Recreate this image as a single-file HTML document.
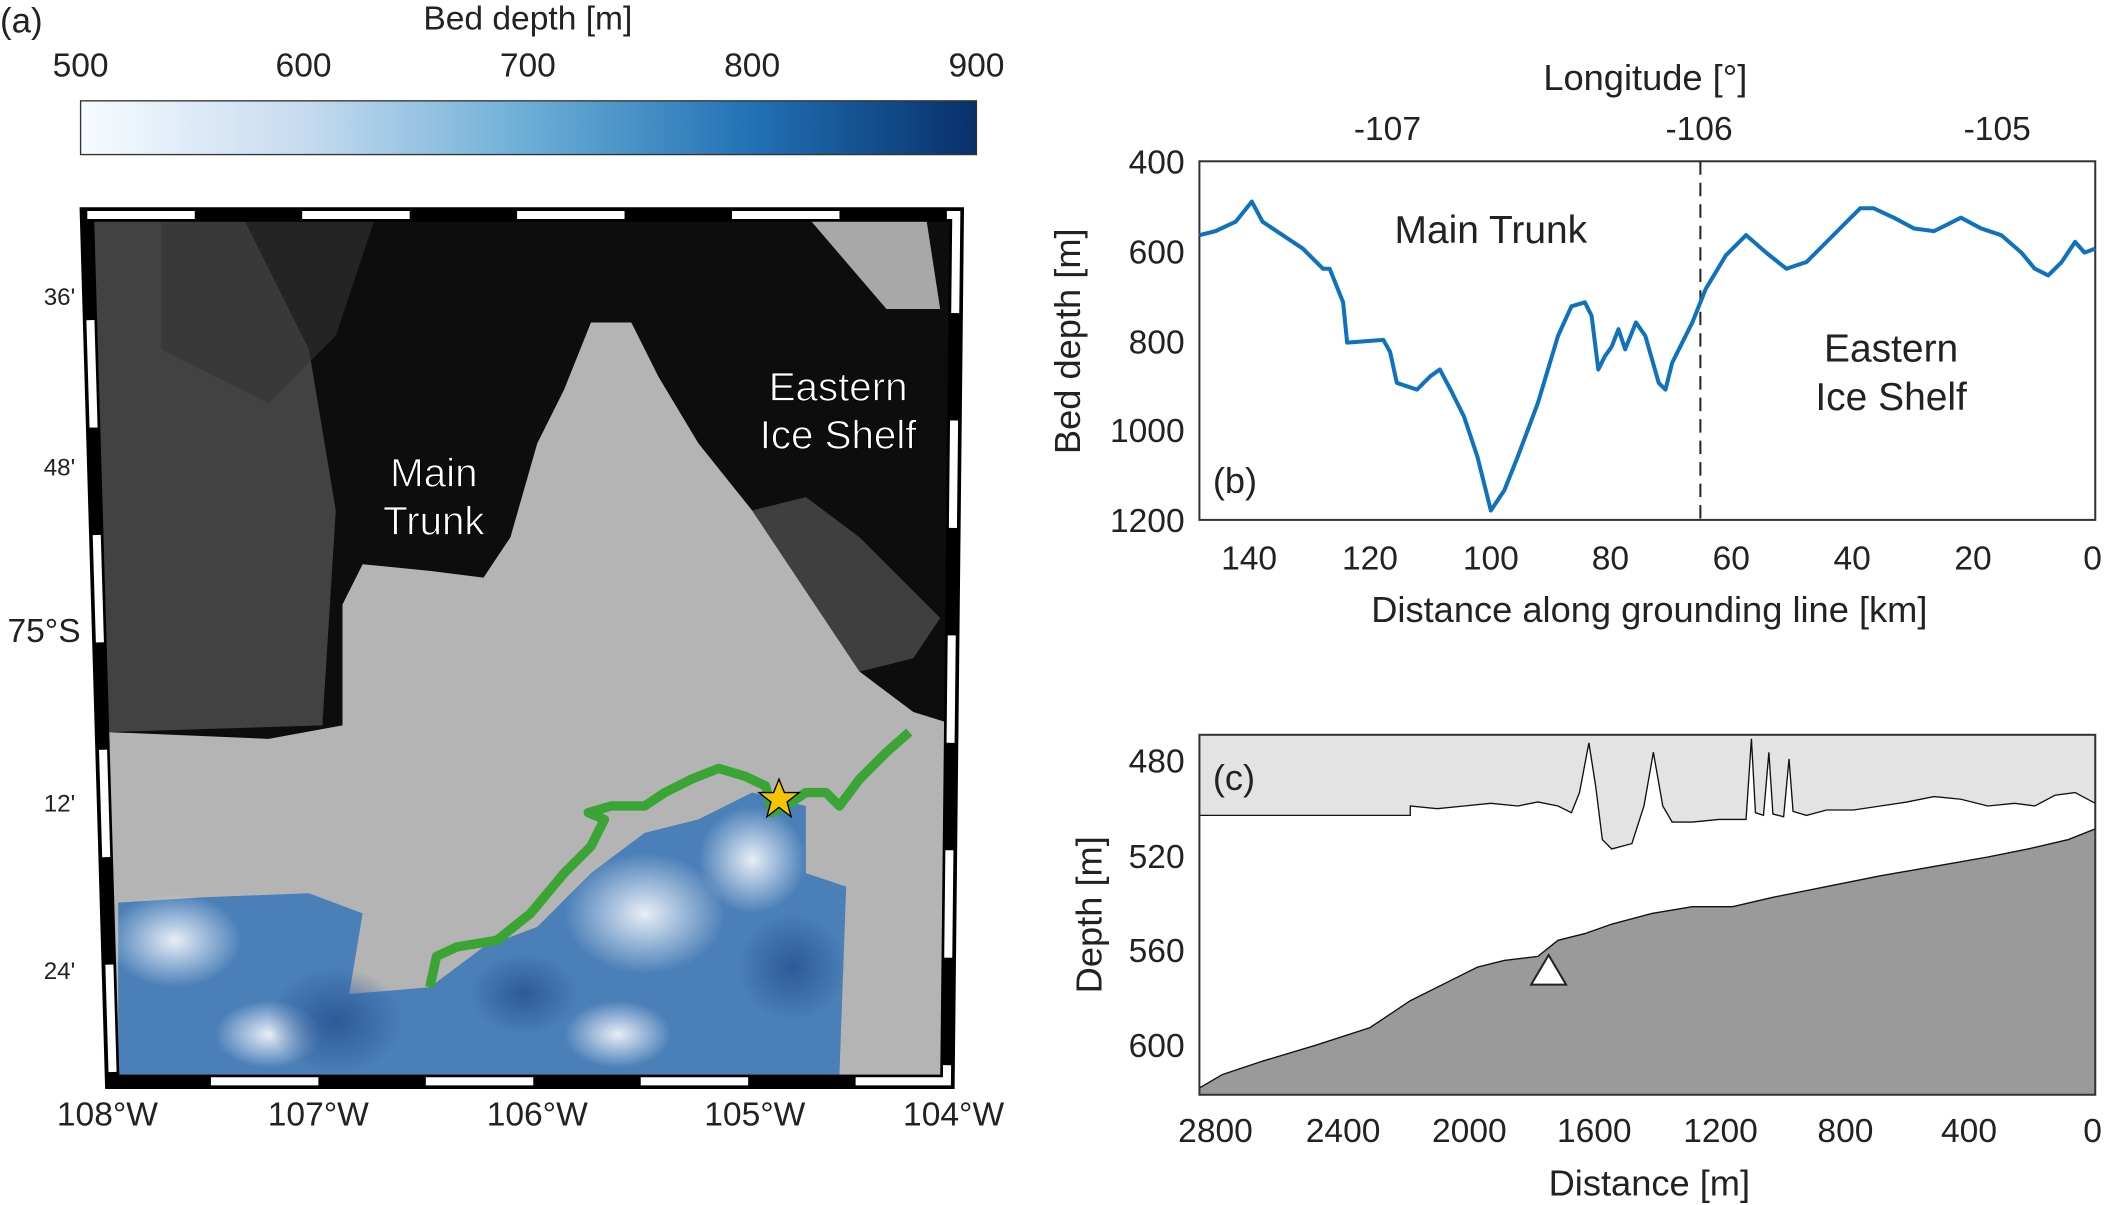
<!DOCTYPE html>
<html><head><meta charset="utf-8"><style>
html,body{margin:0;padding:0;background:#fff}
svg{display:block}
text{font-family:"Liberation Sans",sans-serif;fill:#222}
text.w{fill:#fff;stroke:#000;stroke-width:0.6px}
</style></head><body>
<svg width="2106" height="1205" viewBox="0 0 1568 897" xmlns="http://www.w3.org/2000/svg">
<defs>
<linearGradient id="cb" x1="0" x2="1" y1="0" y2="0">
<stop offset="0" stop-color="#f7fbff"/><stop offset="0.25" stop-color="#c6dbef"/><stop offset="0.5" stop-color="#6baed6"/><stop offset="0.75" stop-color="#2171b5"/><stop offset="1" stop-color="#08306b"/>
</linearGradient>
<radialGradient id="lt" cx="0.5" cy="0.5" r="0.5"><stop offset="0" stop-color="#e8eef6"/><stop offset="1" stop-color="#e8eef6" stop-opacity="0"/></radialGradient>
<radialGradient id="dk" cx="0.5" cy="0.5" r="0.5"><stop offset="0" stop-color="#2c5a98"/><stop offset="1" stop-color="#2c5a98" stop-opacity="0"/></radialGradient>
<clipPath id="mc"><polygon points="65,160 712,160 705,805 84,805"/></clipPath>
</defs>
<text x="0" y="24" font-size="26">(a)</text>
<text x="393" y="22" font-size="25" text-anchor="middle">Bed depth [m]</text>
<g font-size="25" text-anchor="middle">
<text x="60" y="57">500</text><text x="226" y="57">600</text><text x="393" y="57">700</text><text x="560" y="57">800</text><text x="727" y="57">900</text></g>
<rect x="60" y="75" width="667" height="40" fill="url(#cb)" stroke="#333" stroke-width="1"/>
<g clip-path="url(#mc)">
<rect x="60" y="150" width="660" height="670" fill="#b4b4b4"/>
<polygon points="65,160 712,160 712,540 680,530 640,500 600,440 560,380 520,330 490,280 470,240 440,240 420,290 400,330 380,400 360,430 320,425 270,420 255,450 255,540 200,550 80,545" fill="#0d0d0d"/>
<polygon points="65,160 180,160 230,260 250,380 240,540 80,545" fill="#5a5a5a" opacity="0.7"/>
<polygon points="120,160 280,160 250,250 200,300 120,260" fill="#333" opacity="0.6"/>
<polygon points="600,160 690,165 700,230 660,230" fill="#a8a8a8"/>
<polygon points="560,380 600,440 640,500 680,490 700,460 640,400 600,370" fill="#555" opacity="0.7"/>
<polygon points="88,672 150,668 230,665 270,680 260,740 320,735 360,705 400,690 440,650 480,620 520,610 560,590 600,600 600,650 630,660 625,800 88,805" fill="#4a7fb8"/>
<ellipse cx="130" cy="700" rx="50" ry="35" fill="url(#lt)"/>
<ellipse cx="200" cy="770" rx="40" ry="25" fill="url(#lt)"/>
<ellipse cx="480" cy="680" rx="60" ry="45" fill="url(#lt)"/>
<ellipse cx="560" cy="640" rx="40" ry="40" fill="url(#lt)"/>
<ellipse cx="460" cy="770" rx="40" ry="25" fill="url(#lt)"/>
<ellipse cx="390" cy="740" rx="40" ry="30" fill="url(#dk)"/>
<ellipse cx="250" cy="760" rx="50" ry="40" fill="url(#dk)"/>
<ellipse cx="590" cy="720" rx="40" ry="40" fill="url(#dk)"/>
<path d="M320,735 L325,712 L340,705 L370,700 L395,680 L420,650 L440,630 L450,610 L438,605 L455,600 L480,600 L495,590 L515,580 L535,572 L555,578 L570,585 L575,605 L585,600 L600,590 L615,590 L625,600 L640,580 L660,560 L677,545" fill="none" stroke="#3aa535" stroke-width="7" stroke-linejoin="round"/>
</g>
<polygon points="65,160 712,160 705,805 84,805" fill="none" stroke="#000" stroke-width="10"/>
<polygon points="65,160 712,160 705,805 84,805" fill="none" stroke="#fff" stroke-width="6" stroke-dasharray="80 80"/>
<polygon points="60,155 717,155 710,810 79,810" fill="none" stroke="#000" stroke-width="1.5"/>
<polygon points="580,580 584,590 595,590 586,597 589,608 580,601 571,608 574,597 565,590 576,590" fill="#f5c400" stroke="#000" stroke-width="1"/>
<g font-size="30" text-anchor="middle">
<text class="w" x="323" y="362">Main</text><text class="w" x="323" y="398">Trunk</text>
<text class="w" x="624" y="298">Eastern</text><text class="w" x="624" y="334">Ice Shelf</text></g>
<g font-size="18" text-anchor="end"><text x="56" y="227">36'</text><text x="56" y="354">48'</text><text x="56" y="604">12'</text><text x="56" y="729">24'</text></g>
<text x="60" y="478" font-size="25" text-anchor="end">75°S</text>
<g font-size="25" text-anchor="middle"><text x="80" y="838">108°W</text><text x="237" y="838">107°W</text><text x="400" y="838">106°W</text><text x="562" y="838">105°W</text><text x="710" y="838">104°W</text></g>
<!-- (b) -->
<rect x="893" y="120" width="667" height="267" fill="#fff" stroke="#333" stroke-width="1.5"/>
<line x1="1266" y1="120" x2="1266" y2="387" stroke="#222" stroke-width="1.5" stroke-dasharray="10 6"/>
<path d="M893,175 L905,172 L920,165 L932,150 L940,165 L955,175 L970,185 L985,200 L990,200 L1000,225 L1003,255 L1030,253 L1035,262 L1040,285 L1055,290 L1065,280 L1072,275 L1080,290 L1090,310 L1100,340 L1110,380 L1120,365 L1130,340 L1145,300 L1160,250 L1170,228 L1180,225 L1185,235 L1190,275 L1195,265 L1200,258 L1205,245 L1210,260 L1218,240 L1225,250 L1235,285 L1240,290 L1245,270 L1260,240 L1270,215 L1285,190 L1300,175 L1315,188 L1330,200 L1345,195 L1360,180 L1375,165 L1385,155 L1395,155 L1410,162 L1425,170 L1440,172 L1460,162 L1475,170 L1490,175 L1505,188 L1515,200 L1525,205 L1535,195 L1545,180 L1552,188 L1560,185" fill="none" stroke="#0e72bd" stroke-width="3" stroke-linejoin="round"/>
<g font-size="25" text-anchor="end"><text x="882" y="129">400</text><text x="882" y="196">600</text><text x="882" y="263">800</text><text x="882" y="329">1000</text><text x="882" y="396">1200</text></g>
<g font-size="25" text-anchor="middle"><text x="930" y="424">140</text><text x="1020" y="424">120</text><text x="1110" y="424">100</text><text x="1199" y="424">80</text><text x="1289" y="424">60</text><text x="1379" y="424">40</text><text x="1469" y="424">20</text><text x="1558" y="424">0</text>
<text x="1033" y="104">-107</text><text x="1265" y="104">-106</text><text x="1487" y="104">-105</text>
<text x="1225" y="67" font-size="27">Longitude [°]</text>
<text x="1228" y="463" font-size="27">Distance along grounding line [km]</text>
<text x="1110" y="181" font-size="29">Main Trunk</text>
<text x="1408" y="269" font-size="29">Eastern</text><text x="1408" y="305" font-size="29">Ice Shelf</text></g>
<text x="903" y="367" font-size="27">(b)</text>
<text transform="translate(804,254) rotate(-90)" font-size="27" text-anchor="middle">Bed depth [m]</text>
<!-- (c) -->
<rect x="893" y="547" width="667" height="268" fill="#fff"/>
<path d="M893,547 L1560,547 L1560,598 L1545,590 L1530,592 L1515,600 L1500,598 L1480,600 L1460,595 L1440,593 L1420,597 L1400,600 L1380,603 L1360,603 L1345,607 L1335,604 L1332,565 L1328,608 L1320,606 L1317,560 L1313,607 L1307,605 L1304,550 L1300,610 L1280,610 L1260,612 L1245,612 L1238,600 L1231,560 L1224,600 L1215,628 L1200,632 L1193,625 L1188,585 L1183,553 L1176,590 L1170,605 L1160,600 L1145,597 L1130,600 L1110,598 L1090,600 L1070,602 L1050,600 L1050,607 L893,607 Z" fill="#e3e3e3" stroke="#111" stroke-width="1"/>
<path d="M893,815 L893,810 L910,800 L940,790 L980,778 L1020,765 L1050,745 L1080,730 L1100,720 L1120,715 L1145,712 L1160,700 L1180,695 L1200,688 L1230,680 L1260,675 L1290,675 L1320,668 L1360,660 L1400,652 L1440,645 L1480,638 L1510,632 L1540,625 L1560,617 L1560,815 Z" fill="#9a9a9a" stroke="#111" stroke-width="1"/>
<polygon points="1153,711 1166,733 1140,733" fill="#fff" stroke="#222" stroke-width="1.5"/>
<rect x="893" y="547" width="667" height="268" fill="none" stroke="#333" stroke-width="1.5"/>
<g font-size="25" text-anchor="end"><text x="882" y="575">480</text><text x="882" y="646">520</text><text x="882" y="716">560</text><text x="882" y="787">600</text></g>
<g font-size="25" text-anchor="middle"><text x="905" y="850">2800</text><text x="1000" y="850">2400</text><text x="1094" y="850">2000</text><text x="1187" y="850">1600</text><text x="1281" y="850">1200</text><text x="1374" y="850">800</text><text x="1466" y="850">400</text><text x="1558" y="850">0</text>
<text x="1228" y="890" font-size="27">Distance [m]</text></g>
<text x="903" y="588" font-size="27">(c)</text>
<text transform="translate(820,681) rotate(-90)" font-size="27" text-anchor="middle">Depth [m]</text>
</svg>
</body></html>
